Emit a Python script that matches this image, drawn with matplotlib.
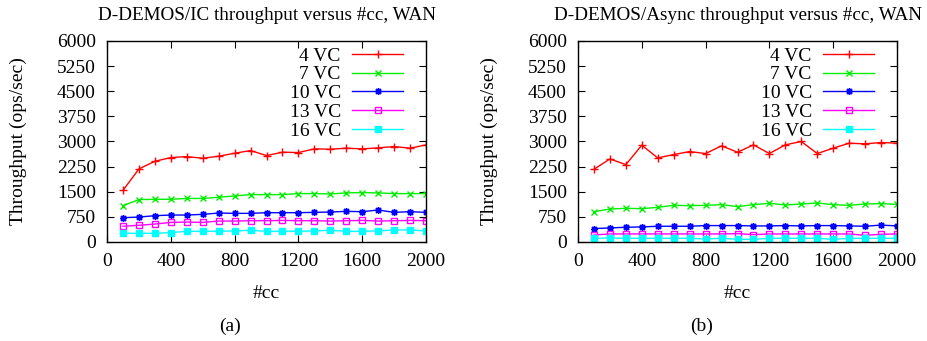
import numpy as np
import matplotlib
matplotlib.use("Agg")
import matplotlib.pyplot as plt

plt.rcParams['font.family'] = ['Liberation Serif', 'DejaVu Serif']
plt.rcParams['font.size'] = 14

cc = [100, 200, 300, 400, 500, 600, 700, 800, 900, 1000,
      1100, 1200, 1300, 1400, 1500, 1600, 1700, 1800, 1900, 2000]

labels = ['4 VC', '7 VC', '10 VC', '13 VC', '16 VC']

# (a) D-DEMOS/IC
ic_4 = [1540, 2180, 2410, 2520, 2550, 2500, 2560, 2650, 2730, 2580,
        2680, 2670, 2780, 2770, 2800, 2780, 2810, 2850, 2800, 2900]
ic_7 = [1085, 1265, 1275, 1275, 1300, 1300, 1335, 1375, 1415, 1415,
        1415, 1445, 1445, 1435, 1465, 1475, 1465, 1445, 1445, 1445]
ic_10 = [725, 745, 785, 805, 805, 825, 865, 855, 855, 875,
         875, 875, 885, 895, 915, 905, 955, 885, 905, 885]
ic_13 = [470, 500, 535, 585, 595, 585, 625, 625, 635, 635,
         645, 635, 635, 625, 635, 645, 625, 635, 645, 635]
ic_16 = [260, 260, 260, 280, 320, 320, 320, 330, 350, 320,
         320, 320, 330, 350, 320, 320, 330, 360, 360, 330]

# (b) D-DEMOS/Async
as_4 = [2170, 2480, 2310, 2890, 2510, 2610, 2700, 2640, 2870, 2680,
        2900, 2640, 2900, 3000, 2640, 2800, 2950, 2930, 2970, 2950]
as_7 = [905, 985, 1005, 995, 1035, 1095, 1085, 1095, 1115, 1055,
        1115, 1155, 1105, 1135, 1165, 1115, 1095, 1135, 1145, 1125]
as_10 = [400, 420, 440, 450, 470, 470, 470, 490, 490, 490,
         480, 480, 490, 480, 490, 490, 480, 470, 505, 480]
as_13 = [210, 240, 240, 240, 240, 240, 240, 240, 240, 250,
         220, 240, 240, 240, 240, 240, 240, 200, 230, 240]
as_16 = [110, 120, 110, 110, 110, 110, 110, 90, 110, 80,
         80, 110, 110, 110, 110, 80, 110, 110, 110, 110]

colors = ['#ff0000', '#00ee00', '#0000ff', '#ff00ff', '#00ffff']
markers = ['+', 'x', (8, 2, 0), 's', 's']
fills = ['full', 'full', 'full', 'none', 'full']
msizes = [6, 5, 5, 5, 5]

fig = plt.figure(figsize=(9.27, 3.41), dpi=100)
ax1 = fig.add_axes([107 / 927, 99 / 341, 319 / 927, 201 / 341])
ax2 = fig.add_axes([578 / 927, 99 / 341, 319 / 927, 201 / 341])

panels = [
    (ax1, [ic_4, ic_7, ic_10, ic_13, ic_16], 'D-DEMOS/IC throughput versus #cc, WAN', '(a)'),
    (ax2, [as_4, as_7, as_10, as_13, as_16], 'D-DEMOS/Async throughput versus #cc, WAN', '(b)'),
]

for ax, series, title, tag in panels:
    for vals, lab, c, m, fs, ms in zip(series, labels, colors, markers, fills, msizes):
        ax.plot(cc, vals, color=c, lw=1, marker=m, fillstyle=fs, ms=ms,
                mew=1, label=lab)
    ax.set_xlim(0, 2000)
    ax.set_ylim(0, 6000)
    ax.set_xticks(np.arange(0, 2001, 400))
    ax.set_yticks(np.arange(0, 6001, 750))
    ax.tick_params(direction='in', top=True, right=True, length=5, width=0.8,
                   labelsize=14, pad=8)
    for s in ax.spines.values():
        s.set_linewidth(1)
    ax.set_title(title, fontsize=13.8, pad=15)
    ax.set_xlabel('#cc', fontsize=14)
    ax.xaxis.set_label_coords(0.5, -0.215)
    ax.set_ylabel('Throughput (ops/sec)', fontsize=14)
    ax.yaxis.set_label_coords(-0.25, 0.5)
    ax.text(0.386, -0.42, tag, transform=ax.transAxes, ha='center',
            va='center', fontsize=14)
    ax.legend(loc='upper right', bbox_to_anchor=(0.928, 0.97), frameon=False,
              markerfirst=False, handlelength=2.6, handletextpad=0.6,
              labelspacing=0.06, borderaxespad=0, borderpad=0, fontsize=14)

fig.savefig('out.png', dpi=100)
